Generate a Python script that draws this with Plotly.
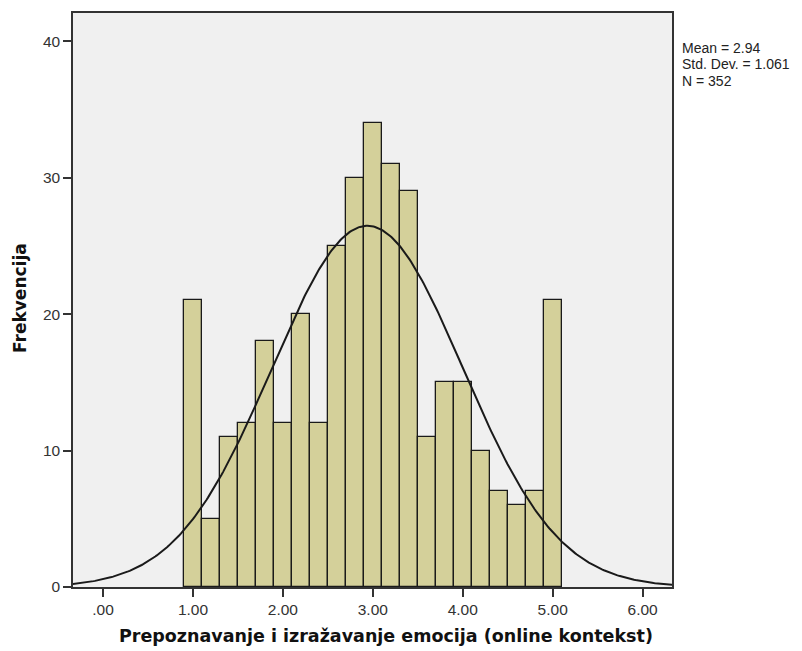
import numpy as np
import plotly.graph_objects as go

# Histogram data (bin centers, width 0.2)
bin_centers = [1.0, 1.2, 1.4, 1.6, 1.8, 2.0, 2.2, 2.4, 2.6, 2.8, 3.0,
               3.2, 3.4, 3.6, 3.8, 4.0, 4.2, 4.4, 4.6, 4.8, 5.0]
counts = [21, 5, 11, 12, 18, 12, 20, 12, 25, 30, 34,
          31, 29, 11, 15, 15, 10, 7, 6, 7, 21]
bin_width = 0.2
mean_val = 2.94
sd_val = 1.061
n_val = 352

x_ticks = [0, 1, 2, 3, 4, 5, 6]
x_tick_labels = [".00", "1.00", "2.00", "3.00", "4.00", "5.00", "6.00"]
y_ticks = [0, 10, 20, 30, 40]
stats_lines = [f"Mean = {mean_val:.2f}", f"Std. Dev. = {sd_val:.3f}", f"N = {n_val}"]

# Fitted normal curve (as SPSS draws it)
xc = np.linspace(-0.34, 6.34, 400)
yc = n_val * bin_width / (sd_val * np.sqrt(2 * np.pi)) * np.exp(-0.5 * ((xc - mean_val) / sd_val) ** 2)

fig = go.Figure()
fig.add_trace(go.Bar(
    x=bin_centers, y=counts, width=bin_width,
    marker=dict(color="#D4D09A", line=dict(color="#1a1a1a", width=1.3)),
    showlegend=False, hoverinfo="x+y"
))
fig.add_trace(go.Scatter(
    x=xc, y=yc, mode="lines",
    line=dict(color="#1a1a1a", width=2),
    showlegend=False, hoverinfo="skip"
))

tick_font = dict(size=15.5, color="#333", family="Arial, Liberation Sans, sans-serif")
annotations = [
    dict(xref="paper", yref="paper", x=0.5225, y=-0.0854, xanchor="center", yanchor="middle",
         text="<b>Prepoznavanje i izražavanje emocija (online kontekst)</b>", showarrow=False,
         font=dict(size=17.5, color="#111", family="DejaVu Sans, Verdana, sans-serif")),
    dict(xref="paper", yref="paper", x=-0.0885, y=0.5035, xanchor="center", yanchor="middle",
         text="<b>Frekvencija</b>", textangle=-90, showarrow=False,
         font=dict(size=17, color="#111", family="DejaVu Sans, Verdana, sans-serif")),
]
for line, yp in zip(stats_lines, [0.9390, 0.9103, 0.8815]):
    annotations.append(dict(
        xref="paper", yref="paper", x=1.0150, y=yp, xanchor="left", yanchor="middle",
        text=line, showarrow=False, borderpad=0,
        font=dict(size=14, color="#222", family="Arial, Liberation Sans, sans-serif"),
    ))

fig.update_layout(
    width=794, height=643,
    margin=dict(l=65, r=130, t=5, b=64),
    paper_bgcolor="white",
    plot_bgcolor="#F0F0F0",
    font=dict(family="Arial, Liberation Sans, sans-serif", color="#222"),
    bargap=0,
    xaxis=dict(
        range=[-0.334, 6.327], automargin=False,
        tickvals=x_ticks, ticktext=x_tick_labels,
        ticks="outside", ticklen=8, tickcolor="#333", tickwidth=1.5,
        showgrid=False, zeroline=False,
        showline=True, linecolor="#333", linewidth=1.5, mirror=True,
        tickfont=tick_font,
    ),
    yaxis=dict(
        range=[0, 42.07], automargin=False,
        tickvals=y_ticks,
        ticks="outside", ticklen=8, tickcolor="#333", tickwidth=1.5,
        showgrid=False, zeroline=False,
        showline=True, linecolor="#333", linewidth=1.5, mirror=True,
        tickfont=tick_font,
    ),
    annotations=annotations,
)

fig.write_html("out.html")
